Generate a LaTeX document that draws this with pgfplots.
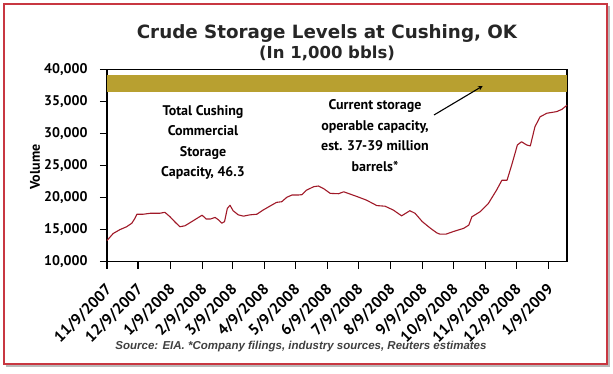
\documentclass[border=0pt]{standalone}
\usepackage{fontspec}
\setmainfont{PT Sans}
\newfontfamily\titlefont{DejaVu Sans}
\newfontfamily\srcfont{Liberation Sans}
\usepackage{pgfplots}
\pgfplotsset{compat=1.18}
\definecolor{band}{RGB}{184,160,48}
\definecolor{curve}{RGB}{160,25,40}
\definecolor{frame}{RGB}{200,55,65}
\begin{document}
\begin{tikzpicture}
\useasboundingbox (0pt,0pt) rectangle (613pt,374pt);
\fill[gray!55] (6pt,7pt) rectangle (609.5pt,368pt);
\filldraw[fill=white, draw=frame, line width=1.6pt] (4pt,10pt) rectangle (607pt,370pt);
\begin{axis}[
  at={(107pt,304.7pt)}, anchor=north west,
  scale only axis, width=460pt, height=192.4pt,
  xmin=0, xmax=445, ymin=10000, ymax=40000,
  axis line style={line width=1.2pt, black},
  tick align=outside, xtick pos=bottom, ytick pos=left,
  major tick length=7pt,
  tick style={line width=1.1pt, black},
  ytick={10000,15000,20000,25000,30000,35000,40000},
  scaled y ticks=false,
  yticklabel style={/pgf/number format/.cd, 1000 sep={,}, assume math mode=true, /tikz/.cd, xshift=-9pt},
  ticklabel style={font=\bfseries\fontsize{14}{14}\selectfont},
  xtick={0,30,61,92,121,152,182,213,243,274,305,335,366,396,427},
  xticklabels={11/9/2007,12/9/2007,1/9/2008,2/9/2008,3/9/2008,4/9/2008,5/9/2008,6/9/2008,7/9/2008,8/9/2008,9/9/2008,10/9/2008,11/9/2008,12/9/2008,1/9/2009},
  xticklabel style={rotate=45, anchor=north east, xshift=-8pt, yshift=-5pt, font=\bfseries\fontsize{15.5}{15.5}\selectfont},
  clip=false,
]
\fill[band] (axis cs:0,36500) rectangle (axis cs:445,39150);
\addplot[curve, line width=1.1pt, line join=round] coordinates {
(0,13300) (6,14400) (12.5,15000) (19,15450) (24,16000) (27,16750) (29,17400)
(35,17400) (42,17550) (51,17550) (56,17700) (61,17000) (66,16150) (70.5,15450)
(75.4,15600) (82,16250) (87,16750) (92,17250) (96,16650) (100,16650) (104.6,16900)
(108,16500) (111,16000) (113.7,16250) (116.4,18300) (119,18800) (122,17950)
(127,17300) (132,17100) (138,17300) (145,17400) (151,18050) (158,18700)
(164,19250) (169,19350) (174,20050) (179,20400) (185,20400) (188.5,20450)
(193,21150) (200,21700) (204.6,21800) (209.5,21400) (216,20650) (224,20600)
(229,20900) (242,20150) (251,19600) (261,18750) (269,18650) (277,18050)
(285,17150) (293,17950) (298,17550) (305,16250) (313,15200) (319,14500)
(322,14300) (328,14300) (335,14700) (345,15200) (350,15700) (353,17000)
(361,17800) (369,19100) (377,21200) (382,22700) (387,22700) (392,25350)
(397,28200) (401,28700) (406,28200) (409.5,28050) (414,31050) (419,32600)
(425.6,33150) (435,33400) (440,33750) (445,34400)
};
\end{axis}
\node[font=\titlefont\bfseries\fontsize{18.3}{18.3}\selectfont, text=black!85] at (327pt,340.5pt) {Crude Storage Levels at Cushing, OK};
\node[font=\titlefont\bfseries\fontsize{16.5}{16.5}\selectfont, text=black!85] at (327pt,321pt) {(In 1,000 bbls)};
\node[font=\bfseries\fontsize{14}{20.5}\selectfont, align=center] at (203pt,231.5pt) {Total Cushing\\Commercial\\Storage\\Capacity, 46.3};
\node[font=\bfseries\fontsize{14}{20.5}\selectfont, align=center] at (375pt,238.5pt) {Current storage\\operable capacity,\\est. 37-39 million\\barrels*};
\draw[-stealth, line width=1.1pt] (434pt,259pt) -- (482.7pt,288pt);
\node[font=\bfseries\fontsize{14}{14}\selectfont, rotate=90] at (35pt,207pt) {Volume};
\node[font=\srcfont\bfseries\itshape\fontsize{11.5}{11.5}\selectfont, text=black!75] at (301pt,27pt) {Source: EIA. *Company filings, industry sources, Reuters estimates};
\end{tikzpicture}
\end{document}
